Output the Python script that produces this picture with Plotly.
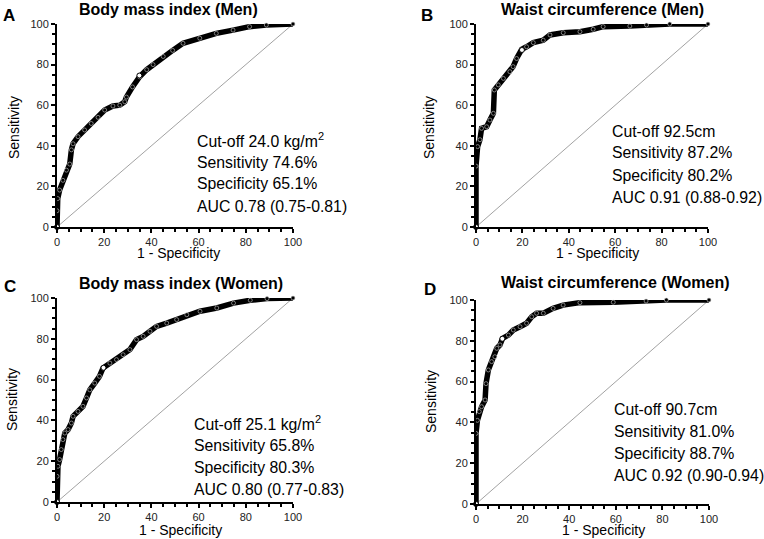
import plotly.graph_objects as go

# ---------------- data (1 - specificity, sensitivity) ----------------
bmi_men_x = [0, 0, 0.3, 1.1, 2.5, 4, 5.4, 6.1, 6.8, 8.9, 11.7, 14.5, 17.4, 20.2, 23.7, 26.6, 28.7,
             29.4, 32, 35, 38, 40.7, 45, 49, 53.4, 60.5, 67.5, 74.6, 81.6, 88.7, 100]
bmi_men_y = [0, 8, 14, 18.2, 23, 28, 31, 38, 41, 44.5, 47.8, 51, 54, 57.6, 59.6, 60, 61.7,
             64, 69, 74, 77.5, 80, 84, 87, 90.5, 93, 95.4, 97, 98.7, 99.5, 100]

waist_men_x = [0, 0, 0.7, 1.7, 2.4, 4.6, 6, 7.5, 7.9, 9.6, 11.8, 14.6, 16, 17.5, 19.7, 21.8, 24.7,
               29, 31.9, 37.6, 44.8, 50.5, 54.8, 66.3, 73.5, 83.5, 100]
waist_men_y = [0, 30, 39.6, 43, 48.6, 49.4, 52.7, 56, 67.5, 70, 73.2, 76.5, 79, 83, 87.5, 88.8, 90.8,
               92, 94.6, 95.7, 96.2, 97.4, 98.7, 99, 99.5, 100, 100]

bmi_women_x = [0, 0, 0.4, 1.1, 1.8, 2.5, 3.3, 4.7, 6.1, 6.8, 8.9, 11, 12.5, 13.9, 16, 18, 19.5, 22.4,
               25.2, 28, 30.9, 33.7, 36.5, 39.4, 42.2, 46.5, 50.7, 55, 60.6, 67.7, 74.8, 81.9, 89, 100]
bmi_women_y = [0, 12.6, 17.5, 20.8, 25.7, 30.6, 33.8, 35.5, 38.7, 42, 44.4, 46.9, 51, 55, 58.3, 61.6, 65.7, 68.1,
               69.8, 72.2, 74.7, 79.6, 81.2, 83.7, 86.1, 87.7, 89.4, 91.8, 93.5, 95.1, 97.5, 98.9, 99.7, 100]

waist_women_x = [0, 0, 0.6, 1.4, 2.4, 3.9, 4.3, 5.3, 6.7, 8.1, 8.9, 10.3, 11.4, 13.9, 16, 18.9, 21.7,
                 23.9, 26, 28.9, 33.1, 37.4, 44.6, 58.9, 73, 81.7, 100]
waist_women_y = [0, 34.6, 41, 45.3, 47.7, 51, 59, 65.7, 69.8, 72.2, 76.3, 78, 81.2, 82.8, 85.3, 86.9, 88.6,
                 91.8, 93.5, 93.5, 95.9, 97.5, 98.7, 98.9, 99.5, 100, 100]

panel_titles = ["Body mass index (Men)", "Waist circumference (Men)",
                "Body mass index (Women)", "Waist circumference (Women)"]
panel_letters = ["A", "B", "C", "D"]
cutoff_text = ["Cut-off 24.0 kg/m<sup>2</sup>", "Cut-off 92.5cm",
               "Cut-off 25.1 kg/m<sup>2</sup>", "Cut-off 90.7cm"]
sens_vals = [74.6, 87.2, 65.8, 81.0]
spec_vals = [65.1, 80.2, 80.3, 88.7]
auc_text = ["AUC 0.78 (0.75-0.81)", "AUC 0.91 (0.88-0.92)",
            "AUC 0.80 (0.77-0.83)", "AUC 0.92 (0.90-0.94)"]
diag = [0, 100]
tick_vals = [0, 20, 40, 60, 80, 100]

curves = [(bmi_men_x, bmi_men_y), (waist_men_x, waist_men_y),
          (bmi_women_x, bmi_women_y), (waist_women_x, waist_women_y)]

# ---------------- layout (pixel geometry) ----------------
W, H = 764, 539
def fx(p): return p / W
def fy(p): return 1 - p / H

# plot areas: (x0, x1, ytop, ybottom) in pixels
areas = [(57, 293, 24, 227), (476, 708, 24, 227), (57, 293, 298, 502), (476, 709, 300, 504)]
title_pos = [(168, 10), (602, 10), (181, 283), (615, 282)]
letter_pos = [(9, 15), (427, 15), (10, 286), (430, 289)]
ytitle_pos = [(14, 128), (429, 128), (12, 400), (431, 402)]
xtitle_pos = [(178, 252.5), (597, 252.5), (180, 530), (603, 530)]
text_left = [195, 610, 192, 612]
text_top = [140, 131, 423, 409]
line_gap = 22

FONT = "Arial, Liberation Sans, sans-serif"

fig = go.Figure()
annotations = []

def ann(text, x, y, size, bold=False, xanchor="center", angle=0):
    annotations.append(dict(text=("<b>%s</b>" % text) if bold else text, x=fx(x), y=fy(y),
                            xref="paper", yref="paper", xanchor=xanchor, yanchor="middle",
                            showarrow=False, textangle=angle,
                            font=dict(family=FONT, size=size, color="black")))

for i in range(4):
    ax = "" if i == 0 else str(i + 1)
    x0, x1, yt, yb = areas[i]
    cx, cy = curves[i]
    # diagonal reference line
    fig.add_trace(go.Scatter(x=diag, y=diag, mode="lines", xaxis="x" + ax, yaxis="y" + ax,
                             line=dict(color="#8a8a8a", width=0.8), hoverinfo="skip", showlegend=False))
    # ROC curve
    fig.add_trace(go.Scatter(x=cx, y=cy, mode="lines", xaxis="x" + ax, yaxis="y" + ax,
                             line=dict(color="black", width=5.5), cliponaxis=False, showlegend=False))
    fig.add_trace(go.Scatter(x=cx, y=cy, mode="markers", xaxis="x" + ax, yaxis="y" + ax,
                             marker=dict(size=4, color="black", line=dict(color="#cccccc", width=0.6)),
                             cliponaxis=False, showlegend=False))
    # cut-off point & origin
    fig.add_trace(go.Scatter(x=[100 - spec_vals[i], 0], y=[sens_vals[i], 0], mode="markers",
                             xaxis="x" + ax, yaxis="y" + ax, cliponaxis=False,
                             marker=dict(size=5, color="white", line=dict(color="black", width=1)),
                             showlegend=False))

    axis_common = dict(range=[0, 100], tickvals=tick_vals, showgrid=False, zeroline=False,
                       automargin=False,
                       showline=True, linecolor="black", linewidth=2, ticks="outside",
                       ticklen=4, tickwidth=2, tickcolor="black",
                       tickfont=dict(family=FONT, size=11, color="#222"),
                       minor=dict(dtick=5, ticks="outside", ticklen=3, tickwidth=1.5, tickcolor="black"))
    fig.update_layout(**{
        "xaxis" + ax: dict(domain=[fx(x0), fx(x1)], anchor="y" + ax, **axis_common),
        "yaxis" + ax: dict(domain=[fy(yb), fy(yt)], anchor="x" + ax, **axis_common),
    })

    ann(panel_titles[i], title_pos[i][0], title_pos[i][1], 16, bold=True)
    ann(panel_letters[i], letter_pos[i][0], letter_pos[i][1], 17, bold=True)
    ann("1 - Specificity", xtitle_pos[i][0], xtitle_pos[i][1], 14)
    ann("Sensitivity", ytitle_pos[i][0], ytitle_pos[i][1], 14, angle=-90)
    lines = [cutoff_text[i], "Sensitivity %.1f%%" % sens_vals[i],
             "Specificity %.1f%%" % spec_vals[i], auc_text[i]]
    for k, t in enumerate(lines):
        ann(t, text_left[i], text_top[i] + k * line_gap, 15.8, xanchor="left")

fig.update_layout(template="none", width=W, height=H, margin=dict(l=0, r=0, t=0, b=0),
                  paper_bgcolor="white", plot_bgcolor="white",
                  annotations=annotations, showlegend=False)

fig.write_html("out.html", config={"displayModeBar": False},
               post_script="document.body.style.margin='0';document.body.style.overflow='hidden';")
